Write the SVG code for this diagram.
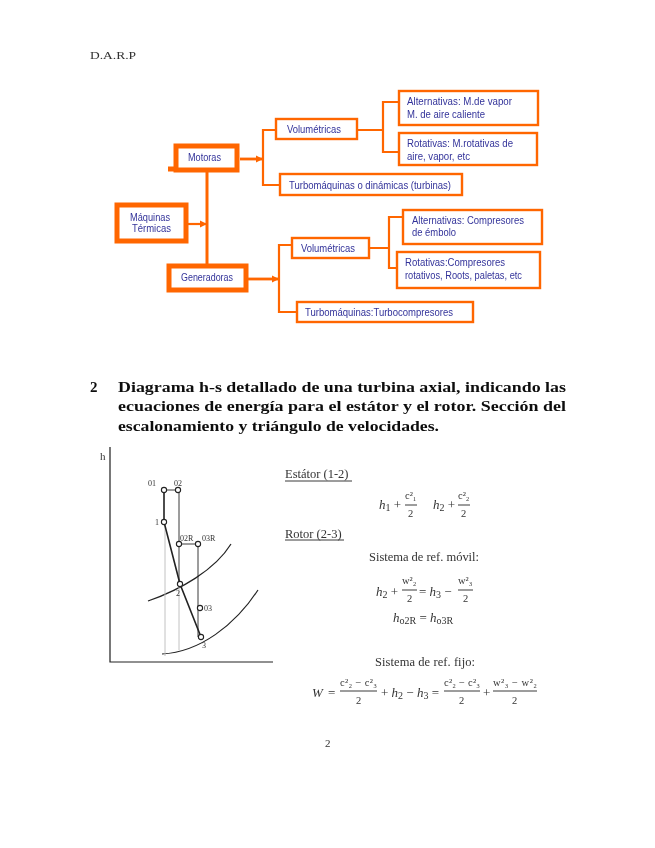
<svg xmlns="http://www.w3.org/2000/svg" width="655" height="848" viewBox="0 0 655 848">
<style>
.b{fill:#fff;stroke:#f60;stroke-width:2.4}
.B{fill:#fff;stroke:#f60;stroke-width:5}
.c{fill:none;stroke:#f60;stroke-width:2.2}
.t{font:10px "Liberation Sans",Arial,sans-serif;fill:#33339a}
.s{font-family:"Liberation Serif","Times New Roman",serif;fill:#333}
.h{font-size:15px;font-weight:bold;fill:#111}
.l{font-size:12.5px}
.m{font-size:13px}
.i{font-style:italic}
.u{font-size:10px}
.n{font-size:10.5px}
.g{fill:none;stroke:#222;stroke-width:1.2}
.p{fill:#fff;stroke:#222;stroke-width:1.1}
.f{fill:none;stroke:#222;stroke-width:.9}
.v{fill:none;stroke:#bbb;stroke-width:.9}
</style>
<defs>
<marker id="a" markerUnits="userSpaceOnUse" markerWidth="7" markerHeight="8" refX="6" refY="4" orient="auto"><path d="M0 .5L7 4L0 7.5z" fill="#f60"/></marker>
<filter id="z" x="-5%" y="-5%" width="110%" height="110%"><feGaussianBlur stdDeviation="0.35"/></filter>
</defs>
<rect width="655" height="848" fill="#fff"/>
<g filter="url(#z)">
<text class="s" x="90" y="59" font-size="11" textLength="46" lengthAdjust="spacingAndGlyphs">D.A.R.P</text>

<g id="connectors">
<path class="c" style="stroke-width:3" d="M207 170V265"/>
<path class="c" d="M186 224H206" marker-end="url(#a)"/>
<path class="c" style="stroke-width:2.8" d="M240 159H262" marker-end="url(#a)"/>
<path class="c" d="M276 130H263V185H280"/>
<path class="c" d="M357 130H383V102H399M383 130V152H399"/>
<path class="c" style="stroke-width:2.8" d="M248 279H278" marker-end="url(#a)"/>
<path class="c" d="M292 245H279V312H297"/>
<path class="c" d="M369 248H389V217H403M389 248V268H397"/>
</g>

<g id="motoras"><rect class="B" x="176" y="146" width="61" height="24"/><path d="M168 169H176" stroke="#f60" stroke-width="5"/><text class="t" x="188" y="161" textLength="33" lengthAdjust="spacingAndGlyphs">Motoras</text></g>
<g id="maquinas"><rect class="B" x="117" y="205" width="69" height="36"/><text class="t" x="130" y="221" textLength="40" lengthAdjust="spacingAndGlyphs">Máquinas</text><text class="t" x="132" y="232" textLength="39" lengthAdjust="spacingAndGlyphs">Térmicas</text></g>
<g id="generadoras"><rect class="B" x="169" y="266" width="77" height="24"/><text class="t" x="181" y="281" textLength="52" lengthAdjust="spacingAndGlyphs">Generadoras</text></g>
<g id="volumetricas1"><rect class="b" x="276" y="119" width="81" height="20"/><text class="t" x="287" y="133" textLength="54" lengthAdjust="spacingAndGlyphs">Volumétricas</text></g>
<g id="alternativas1"><rect class="b" x="399" y="91" width="139" height="34"/><text class="t" x="407" y="105" textLength="105" lengthAdjust="spacingAndGlyphs">Alternativas: M.de vapor</text><text class="t" x="407" y="118" textLength="78" lengthAdjust="spacingAndGlyphs">M. de aire caliente</text></g>
<g id="rotativas1"><rect class="b" x="399" y="133" width="138" height="32"/><text class="t" x="407" y="147" textLength="106" lengthAdjust="spacingAndGlyphs">Rotativas: M.rotativas de</text><text class="t" x="407" y="160" textLength="63" lengthAdjust="spacingAndGlyphs">aire, vapor, etc</text></g>
<g id="turbo1"><rect class="b" x="280" y="174" width="182" height="21"/><text class="t" x="289" y="189" textLength="162" lengthAdjust="spacingAndGlyphs">Turbomáquinas o dinámicas (turbinas)</text></g>
<g id="volumetricas2"><rect class="b" x="292" y="238" width="77" height="20"/><text class="t" x="301" y="252" textLength="54" lengthAdjust="spacingAndGlyphs">Volumétricas</text></g>
<g id="alternativas2"><rect class="b" x="403" y="210" width="139" height="34"/><text class="t" x="412" y="224" textLength="112" lengthAdjust="spacingAndGlyphs">Alternativas: Compresores</text><text class="t" x="412" y="236" textLength="44" lengthAdjust="spacingAndGlyphs">de émbolo</text></g>
<g id="rotativas2"><rect class="b" x="397" y="252" width="143" height="36"/><text class="t" x="405" y="266" textLength="100" lengthAdjust="spacingAndGlyphs">Rotativas:Compresores</text><text class="t" x="405" y="279" textLength="117" lengthAdjust="spacingAndGlyphs">rotativos, Roots, paletas, etc</text></g>
<g id="turbo2"><rect class="b" x="297" y="302" width="176" height="20"/><text class="t" x="305" y="316" textLength="148" lengthAdjust="spacingAndGlyphs">Turbomáquinas:Turbocompresores</text></g>

<g class="s h">
<text x="90" y="392">2</text>
<text x="118" y="392" textLength="448" lengthAdjust="spacingAndGlyphs">Diagrama h-s detallado de una turbina axial, indicando las</text>
<text x="118" y="411" textLength="448" lengthAdjust="spacingAndGlyphs">ecuaciones de energía para el estátor y el rotor. Sección del</text>
<text x="118" y="431" textLength="321" lengthAdjust="spacingAndGlyphs">escalonamiento y triángulo de velocidades.</text>
</g>

<g id="hs-plot">
<path class="f" style="stroke-width:1.2" d="M110 447V662H273"/>
<text class="s" x="100" y="460" font-size="11">h</text>
<path class="g" d="M148 601C180 590 215 570 231 544"/>
<path class="g" d="M162 654C200 652 235 625 258 590"/>
<path class="v" d="M179 584V650M165 522V656"/>
<path class="f" d="M179 490V584M198 544V637"/>
<path class="g" style="stroke-width:1.6" d="M164 490V522L180 584L201 637"/>
<path class="f" d="M164 490H178M179 544H198"/>
<circle class="p" cx="164" cy="490" r="2.6"/><circle class="p" cx="178" cy="490" r="2.6"/>
<circle class="p" cx="164" cy="522" r="2.6"/><circle class="p" cx="179" cy="544" r="2.6"/>
<circle class="p" cx="198" cy="544" r="2.6"/><circle class="p" cx="180" cy="584" r="2.6"/>
<circle class="p" cx="200" cy="608" r="2.6"/><circle class="p" cx="201" cy="637" r="2.6"/>
<g class="s" font-size="8"><text x="148" y="486">01</text><text x="174" y="486">02</text><text x="155" y="525">1</text><text x="180" y="541">02R</text><text x="202" y="541">03R</text><text x="176" y="596">2</text><text x="204" y="611">03</text><text x="202" y="648">3</text></g>
</g>

<g id="equations" class="s m">
<text class="l" x="285" y="478">Estátor (1-2)</text><path class="f" d="M285 481H352"/>
<text x="379" y="509"><tspan class="i">h</tspan><tspan class="u" dy="2">1</tspan><tspan dy="-2"> + </tspan></text>
<text x="405" y="499" class="n">c²₁</text><path class="f" d="M405 505H417"/><text x="408" y="517" class="n">2</text>
<text x="433" y="509"><tspan class="i">h</tspan><tspan class="u" dy="2">2</tspan><tspan dy="-2"> + </tspan></text>
<text x="458" y="499" class="n">c²₂</text><path class="f" d="M458 505H470"/><text x="461" y="517" class="n">2</text>

<text class="l" x="285" y="538">Rotor (2-3)</text><path class="f" d="M285 540H344"/>
<text class="l" x="369" y="561" textLength="110">Sistema de ref. móvil:</text>
<text x="376" y="596"><tspan class="i">h</tspan><tspan class="u" dy="2">2</tspan><tspan dy="-2"> + </tspan></text>
<text x="402" y="584" class="n">w²₂</text><path class="f" d="M402 590H417"/><text x="407" y="602" class="n">2</text>
<text x="419" y="596">= <tspan class="i">h</tspan><tspan class="u" dy="2">3</tspan><tspan dy="-2"> −</tspan></text>
<text x="458" y="584" class="n">w²₃</text><path class="f" d="M458 590H473"/><text x="463" y="602" class="n">2</text>
<text x="393" y="622"><tspan class="i">h</tspan><tspan class="u" dy="2">o2R</tspan><tspan dy="-2"> = </tspan><tspan class="i">h</tspan><tspan class="u" dy="2">o3R</tspan></text>

<text class="l" x="375" y="666" textLength="100">Sistema de ref. fijo:</text>
<text x="312" y="697" class="i">W</text><text x="328" y="697"> = </text>
<text x="340" y="686" class="n" textLength="37">c²₂ − c²₃</text><path class="f" d="M340 691H377"/><text x="356" y="704" class="n">2</text>
<text x="381" y="697">+ <tspan class="i">h</tspan><tspan class="u" dy="2">2</tspan><tspan dy="-2"> − </tspan><tspan class="i">h</tspan><tspan class="u" dy="2">3</tspan><tspan dy="-2"> = </tspan></text>
<text x="444" y="686" class="n" textLength="36">c²₂ − c²₃</text><path class="f" d="M444 691H480"/><text x="459" y="704" class="n">2</text>
<text x="483" y="697">+</text>
<text x="493" y="686" class="n" textLength="44">w²₃ − w²₂</text><path class="f" d="M493 691H537"/><text x="512" y="704" class="n">2</text>
</g>
<text class="s" x="325" y="747" font-size="11">2</text>
</g>
</svg>
